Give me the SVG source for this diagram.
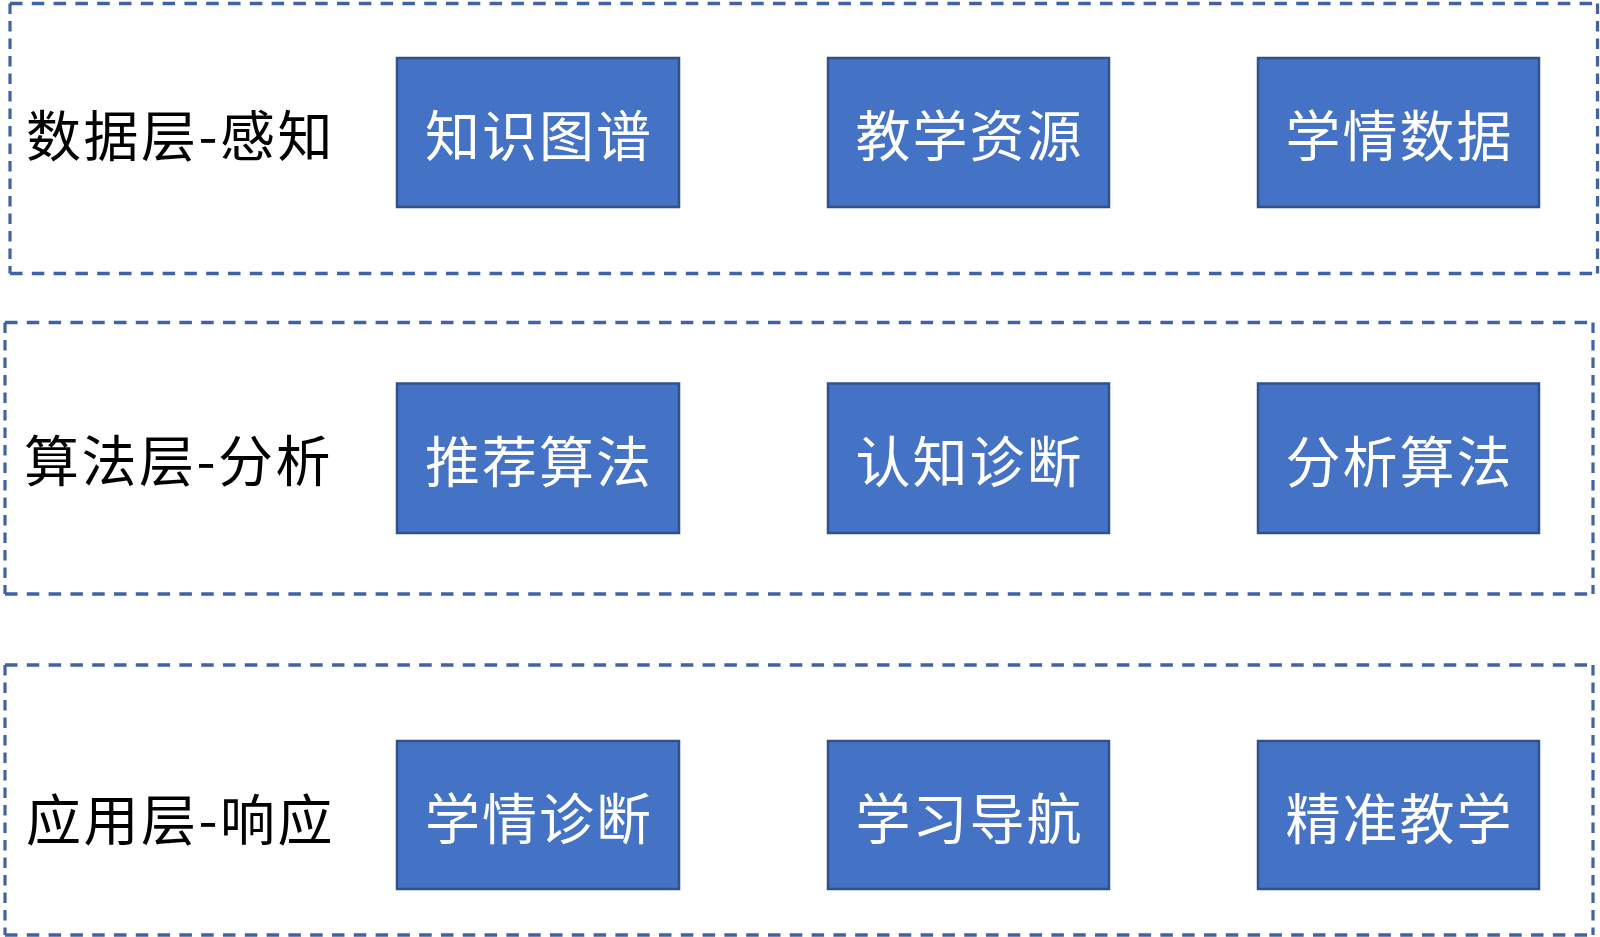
<svg xmlns="http://www.w3.org/2000/svg" width="1600" height="937" viewBox="0 0 1600 937">
<style>
.h{fill:none;stroke:#4163A6;stroke-width:3.4;stroke-dasharray:12.5 9.3}
.v{fill:none;stroke:#4163A6;stroke-width:3.2;stroke-dasharray:10.5 7}
.node rect{fill:#4472C4;stroke:#2F528F;stroke-width:2.5}
.node text{fill:#ffffff;font-family:"Noto Sans CJK SC","Noto Sans",sans-serif;font-size:55px;letter-spacing:2px;text-anchor:middle;dominant-baseline:central}
.label{fill:#000000;font-family:"Noto Sans CJK SC","Noto Sans",sans-serif;font-size:55px;letter-spacing:2.5px;dominant-baseline:central}
</style>
<rect width="1600" height="937" fill="#ffffff"/>
<g id="layer-data">
<path class="h" d="M10 3.5H1597.5M10 273.5H1597.5"/>
<path class="v" d="M10 3.5V273.5M1597.5 3.5V273.5"/>
<text class="label" x="26" y="132">数据层-感知</text>
</g>
<g id="layer-algo">
<path class="h" d="M5 322.5H1593M5 594H1593"/>
<path class="v" d="M5 322.5V594M1593 322.5V594"/>
<text class="label" x="24" y="457">算法层-分析</text>
</g>
<g id="layer-app">
<path class="h" d="M5 665H1593M5 935H1593"/>
<path class="v" d="M5 665V935M1593 665V935"/>
<text class="label" x="26" y="816">应用层-响应</text>
</g>
<g id="n1" class="node"><rect x="397" y="58" width="282" height="149"/><text x="539" y="132">知识图谱</text></g>
<g id="n2" class="node"><rect x="828" y="58" width="281" height="149"/><text x="969.5" y="132">教学资源</text></g>
<g id="n3" class="node"><rect x="1258" y="58" width="281" height="149"/><text x="1399.5" y="132">学情数据</text></g>
<g id="n4" class="node"><rect x="397" y="383.5" width="282" height="149.5"/><text x="539" y="458">推荐算法</text></g>
<g id="n5" class="node"><rect x="828" y="383.5" width="281" height="149.5"/><text x="969.5" y="458">认知诊断</text></g>
<g id="n6" class="node"><rect x="1258" y="383.5" width="281" height="149.5"/><text x="1399.5" y="458">分析算法</text></g>
<g id="n7" class="node"><rect x="397" y="741" width="282" height="148"/><text x="539" y="815">学情诊断</text></g>
<g id="n8" class="node"><rect x="828" y="741" width="281" height="148"/><text x="969.5" y="815">学习导航</text></g>
<g id="n9" class="node"><rect x="1258" y="741" width="281" height="148"/><text x="1399.5" y="815">精准教学</text></g>
<g id="connectors"></g>
</svg>
